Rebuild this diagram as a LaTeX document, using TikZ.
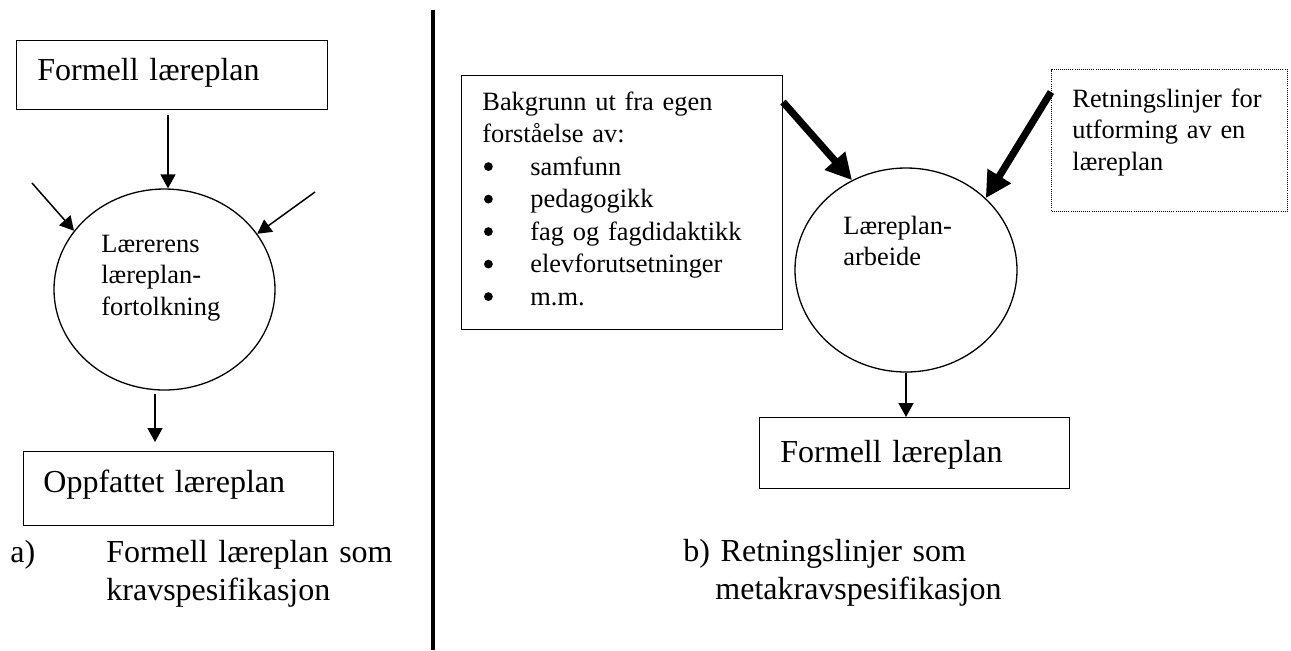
\documentclass[tikz,border=0pt]{standalone}
\usepackage{fontspec}
\setmainfont{Liberation Serif}
\usetikzlibrary{arrows.meta,shapes.geometric}
% round list bullet, centred a little above the baseline
\newcommand{\listdot}{\makebox[24pt][l]{\hspace{0.8pt}\tikz[baseline=-4.2pt]\fill (0,0) circle (2.2pt);}}
\begin{document}
\begin{tikzpicture}[x=0.5pt,y=-0.5pt,
  box/.style={draw, line width=0.65pt, rectangle, inner sep=0pt, anchor=north west},
  dotbox/.style={draw, line width=0.6pt, dash pattern=on 0.5pt off 0.55pt, rectangle, inner sep=0pt, anchor=north west},
  oval/.style={draw, line width=0.65pt, ellipse, inner sep=0pt},
  bigtxt/.style={inner sep=0pt, anchor=base west, align=left, text width=200pt, font=\fontsize{16}{19}\selectfont},
  smalltxt/.style={inner sep=0pt, anchor=base west, align=left, text width=170pt, font=\fontsize{13.2}{15.9}\selectfont},
  thinarrow/.style={line width=0.75pt, -{Triangle[length=7pt,width=7.5pt]}},
  thickarrow/.style={line width=3.6pt, -{Triangle[length=13pt,width=13pt]}},
]
\useasboundingbox (0,0) rectangle (1291,650);

% ---------- a) left part ----------
\node[box, minimum width=155.5pt, minimum height=34.5pt] (f1) at (16,40) {};
\node[bigtxt] (f1t) at (37,80) {Formell læreplan};

\node[oval, minimum width=110.5pt, minimum height=100.5pt] (lo) at (164.5,289.5) {};
\node[smalltxt] (lot) at (101,252) {Lærerens\\læreplan-\\fortolkning};

\node[box, minimum width=155pt, minimum height=37pt] (o1) at (23,451) {};
\node[bigtxt] (o1t) at (43,492) {Oppfattet læreplan};

\coordinate (a1) at (168,115);
\coordinate (a2) at (32,183);
\coordinate (a3) at (315,192);
\coordinate (a4) at (155,394);
\coordinate (a4e) at (155,442);
\draw[thinarrow] (a1) -- (a1 |- lo.north);
\draw[thinarrow] (a2) -- (lo.147);
\draw[thinarrow] (a3) -- (lo.31);
\draw[thinarrow] (a4) -- (a4e);

\node[bigtxt, text width=30pt] (ca) at (10,562) {a)};
\node[bigtxt] (cat) at (106,562) {Formell læreplan som\\kravspesifikasjon};

% ---------- divider ----------
\coordinate (d1) at (433,10);
\coordinate (d2) at (433,650);
\draw[line width=2pt] (d1) -- (d2);

% ---------- b) right part ----------
\node[box, minimum width=160.5pt, minimum height=127pt] (bg) at (461,75) {};
\node[smalltxt, font=\fontsize{13.2}{16.25}\selectfont] (bgt) at (482,110)
  {Bakgrunn ut fra egen\\forståelse av:\\
   \listdot samfunn\\
   \listdot pedagogikk\\
   \listdot fag og fagdidaktikk\\
   \listdot elevforutsetninger\\
   \listdot m.m.};

\node[dotbox, minimum width=118pt, minimum height=71pt] (rl) at (1051,69) {};
\node[smalltxt, text width=115pt] (rlt) at (1072,107) {Retningslinjer for\\utforming av en\\læreplan};

\node[oval, minimum width=111pt, minimum height=102pt] (la) at (906,270) {};
\node[smalltxt, text width=90pt] (lat) at (843,234) {Læreplan-\\arbeide};

\node[box, minimum width=155pt, minimum height=35.5pt] (f2) at (759,417) {};
\node[bigtxt] (f2t) at (780,462) {Formell læreplan};

\coordinate (b1) at (783,102);
\coordinate (b2) at (1051,92);
\draw[thickarrow] (b1) -- (la.121);
\draw[thickarrow] (b2) -- (la.42);
\draw[thinarrow] (la.south) -- (la.south |- f2.north);

\node[bigtxt] (cb) at (683,561) {b) Retningslinjer som\\\hspace*{16pt}metakravspesifikasjon};
\end{tikzpicture}
\end{document}
